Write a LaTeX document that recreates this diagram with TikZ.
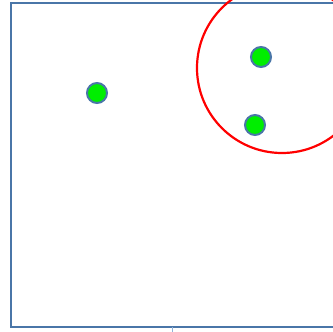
\documentclass[tikz,border=0pt]{standalone}
\usepackage{tikz}
\usetikzlibrary{positioning, calc}

\definecolor{frameblue}{HTML}{4A76A8}
\definecolor{tickblue}{HTML}{8FB3DA}
\definecolor{dotgreen}{HTML}{00EE00}

\begin{document}
\begin{tikzpicture}[
    x=1pt, y=-1pt,
    point/.style={draw=frameblue, line width=2pt, circle, minimum size=20pt, inner sep=0pt, fill=dotgreen},
    querycircle/.style={draw=red, line width=2.2pt, circle, minimum size=170pt, inner sep=0pt}
]
    \useasboundingbox (0, 0) rectangle (333, 332);

    % --- FRAME ---
    \draw[frameblue, line width=2.8pt] (346, 3) -- (11, 3) -- (11, 327) -- (346, 327);
    \coordinate (tick) at (172, 327);
    \draw[tickblue, line width=1pt] (tick) -- ++(0, 6);

    % --- QUERY RANGE ---
    \node[querycircle] (query) at (282, 68) {};

    % --- POINTS ---
    \node[point] (p1) at (97, 93) {};
    \node[point] (p2) at (261, 57) {};
    \node[point] (p3) at (255, 125) {};

\end{tikzpicture}
\end{document}
